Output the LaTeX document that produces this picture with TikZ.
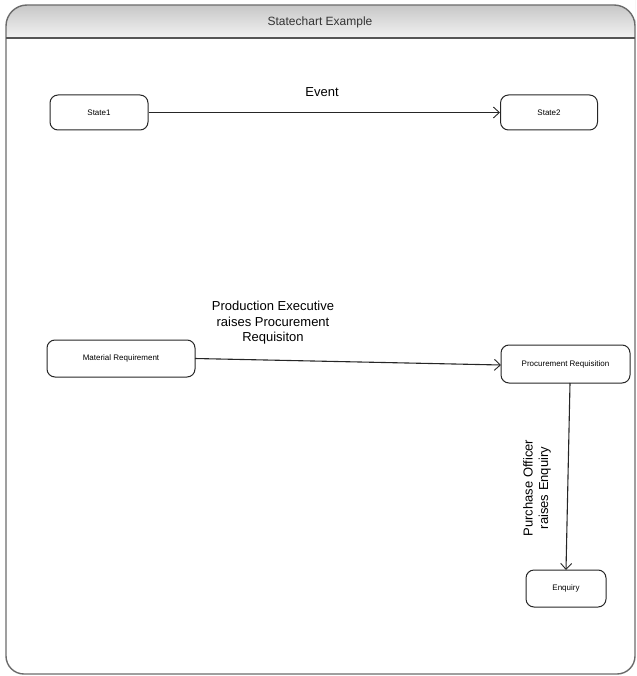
\documentclass[tikz,border=0pt]{standalone}
\usepackage{fontspec}
\setmainfont{Liberation Sans}
\usetikzlibrary{arrows.meta}
\definecolor{framegray}{gray}{0.42}
\tikzset{
  statebox/.style={draw=black!85, line width=1pt, rounded corners=8pt, align=center, inner sep=0pt, font=\fontsize{8}{9.5}\selectfont},
  trans/.style={draw=black!85, line width=1.1pt, -{Straight Barb[length=6pt,width=11pt,line width=0.9pt]}},
  lbl/.style={font=\fontsize{13}{15.5}\selectfont, align=center, inner sep=0pt}
}
\begin{document}
\begin{tikzpicture}[x=1pt,y=-1pt]
\useasboundingbox (0,0) rectangle (636,676);
% header
\shade[top color=black!22, bottom color=black!5]
  (6,38) [rounded corners=21pt] -- (6,5) -- (635,5) -- (635,21) [sharp corners] -- (635,38) -- cycle;
% frame
\draw[framegray, line width=1.4pt]
  (6,300) [rounded corners=21pt] -- (6,5) -- (635,5) -- (635,300) [rounded corners=18pt] -- (635,674) -- (6,674) -- (6,300);
\draw[framegray!80!black, line width=1.4pt] (6,38) -- (635,38);
\node[font=\fontsize{12}{14}\selectfont, text=black!80] (title) at (320,22) {Statechart Example};

% states
\node[statebox, minimum width=98pt, minimum height=35pt] (s1) at (99,112.5) {State1};
\node[statebox, minimum width=97pt, minimum height=35pt] (s2) at (549,112.5) {State2};
\draw[trans] (s1) -- (s2);
\node[lbl] (ev) at (322,92) {Event};

\node[statebox, minimum width=148pt, minimum height=37pt] (mr) at (121,358.5) {Material Requirement};
\node[statebox, minimum width=129pt, minimum height=38pt] (pr) at (565.5,364) {Procurement Requisition};
\node[statebox, minimum width=80pt, minimum height=37pt] (enq) at (566,588.5) {Enquiry};

\coordinate (a1) at (195,358.5);
\coordinate (a2) at (501,365);
\draw[trans] (a1) -- (a2);
\node[lbl] (l1) at (273,323) {Production Executive\\raises Procurement\\Requisiton};

\coordinate (b1) at (570,383);
\coordinate (b2) at (566,570);
\draw[trans] (b1) -- (b2);
\node[lbl, rotate=90] (l2) at (537,488) {Purchase Officer\\raises Enquiry};
\end{tikzpicture}
\end{document}
